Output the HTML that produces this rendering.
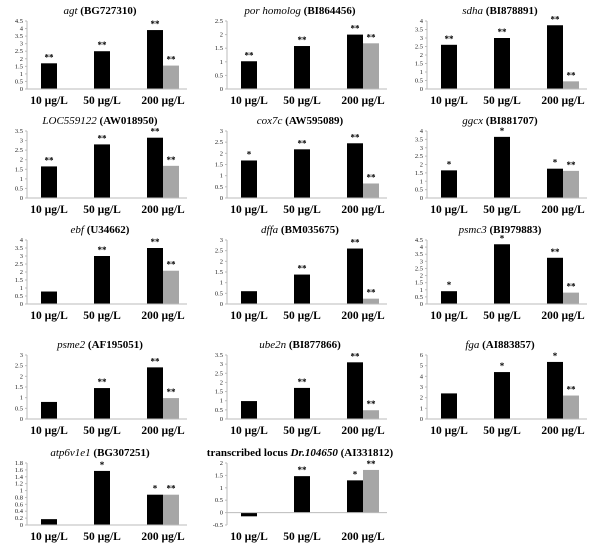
<!DOCTYPE html>
<html><head><meta charset="utf-8"><style>
html,body{margin:0;padding:0;background:#fff;width:600px;height:545px;overflow:hidden}
svg{display:block}
</style></head><body>
<svg id="chart" width="600" height="545" xmlns="http://www.w3.org/2000/svg" font-family="'Liberation Serif', serif"></svg>
<script>
const categories = ["10 µg/L","50 µg/L","200 µg/L"];
const geneNames = ["agt","por homolog","sdha","LOC559122","cox7c","ggcx","ebf","dffa","psmc3","psme2","ube2n","fga","atp6v1e1","Dr.104650"];
const accessions = ["(BG727310)","(BI864456)","(BI878891)","(AW018950)","(AW595089)","(BI881707)","(U34662)","(BM035675)","(BI979883)","(AF195051)","(BI877866)","(AI883857)","(BG307251)","(AI331812)"];
const yMaxes = [4.5,2.5,4,3.5,3,4,4,3,4.5,3,3.5,6,1.8,2];
const yMins = [0,0,0,0,0,0,0,0,0,0,0,0,0,-0.5];
const ySteps = [0.5,0.5,0.5,0.5,0.5,0.5,0.5,0.5,0.5,0.5,0.5,1,0.2,0.5];
const blackValues = [[1.7,2.5,3.9],[1.02,1.58,2.0],[2.6,3.0,3.75],[1.65,2.8,3.15],[1.68,2.18,2.45],[1.65,3.65,1.75],[0.78,3.0,3.5],[0.6,1.38,2.6],[0.9,4.2,3.25],[0.8,1.45,2.42],[0.98,1.7,3.1],[2.4,4.4,5.35],[0.17,1.57,0.88],[-0.15,1.47,1.3]];
const grayValues = [1.55,1.68,0.45,1.68,0.65,1.62,2.08,0.25,0.8,0.98,0.48,2.2,0.88,1.72];
const blackStars = [["**","**","**"],["**","**","**"],["**","**","**"],["**","**","**"],["*","**","**"],["*","*","*"],["","**","**"],["","**","**"],["*","*","**"],["","**","**"],["","**","**"],["","*","*"],["","*","*"],["","**","*"]];
const grayStars = ["**","**","**","**","**","**","**","**","**","**","**","**","**","**"];

const svg = document.getElementById('chart');
const NS = "http://www.w3.org/2000/svg";
const rowTops = [21,131,240,355,463];
const rowBottoms = [89,198,304,419,525];
const colX = [0,200,400];
function mk(tag, attrs){const e=document.createElementNS(NS,tag);for(const k in attrs)e.setAttribute(k,attrs[k]);return e;}

geneNames.forEach((g, p) => {
  const r = Math.floor(p/3), c = p%3;
  const ax = colX[c] + 27, right = ax + 160;
  const top = rowTops[r], bot = rowBottoms[r];
  const ymin = yMins[p], ymax = yMaxes[p];
  const y = v => bot - (v - ymin) / (ymax - ymin) * (bot - top);
  const gw = 53, bw = 16;
  const gx = i => ax + i*gw + 14;
  const grp = mk('g', {});
  
  
  svg.appendChild(grp);
  const t = mk('text', {x: colX[c]+100, y: top-7, 'text-anchor':'middle', 'font-size':'11'});
  
  
  if (p === 13) {
    t.innerHTML = '<tspan font-weight="bold">transcribed locus </tspan><tspan font-style="italic" font-weight="bold">' + g + '</tspan><tspan font-weight="bold"> ' + accessions[p] + '</tspan>';
  } else {
    t.innerHTML = '<tspan font-style="italic">' + g + '</tspan><tspan font-weight="bold"> ' + accessions[p] + '</tspan>';
  }
  grp.appendChild(t);
  const yl = mk('line', {x1:ax, x2:ax, y1:top, y2:bot, stroke:'#bbb', 'stroke-width':1});
  
  
  grp.appendChild(yl);
  const nT = Math.round((ymax - ymin)/ySteps[p]);
  for (let k=0;k<=nT;k++){
    const v = ymin + k*ySteps[p];
    const tl = mk('text', {x: ax-4, y: y(v)+2, 'text-anchor':'end', 'font-size':'6.5', fill:'#222'});
    
    
    tl.textContent = String(Math.round(v*10)/10);
    grp.appendChild(tl);
    const tk = mk('line', {x1:ax-2, x2:ax, y1:y(v), y2:y(v), stroke:'#bbb'});
    
    
    grp.appendChild(tk);
  }
  blackValues[p].forEach((v,i) => {
    const y0 = y(0), yv = y(v);
    const b = mk('rect', {x: gx(i), y: Math.min(y0,yv), width: bw, height: Math.abs(y0-yv), fill:'#000'});
    
    
    grp.appendChild(b);
    if (blackStars[p][i]) {
      const s = mk('text', {x: gx(i)+bw/2, y: Math.min(y0,yv)-3, 'text-anchor':'middle', 'font-size':'9', 'font-weight':'bold'});
      
      
      s.textContent = blackStars[p][i];
      grp.appendChild(s);
    }
  });
  {
    const v = grayValues[p], y0 = y(0), yv = y(v);
    const b = mk('rect', {x: gx(2)+bw, y: Math.min(y0,yv), width: bw, height: Math.abs(y0-yv), fill:'#a6a6a6'});
    
    
    grp.appendChild(b);
    const s = mk('text', {x: gx(2)+bw*1.5, y: Math.min(y0,yv)-3, 'text-anchor':'middle', 'font-size':'9', 'font-weight':'bold'});
    
    
    s.textContent = grayStars[p];
    grp.appendChild(s);
  }
  const xl = mk('line', {x1:ax, x2:right, y1:y(0), y2:y(0), stroke:'#bbb'});
  
  
  grp.appendChild(xl);
  categories.forEach((cat,i) => {
    const ct = mk('text', {x: gx(i)+ (i===2?bw:bw/2) , y: bot+15, 'text-anchor':'middle', 'font-size':'11.5', 'font-weight':'bold'});
    
    
    ct.textContent = cat;
    grp.appendChild(ct);
  });
});
</script>
</body></html>
